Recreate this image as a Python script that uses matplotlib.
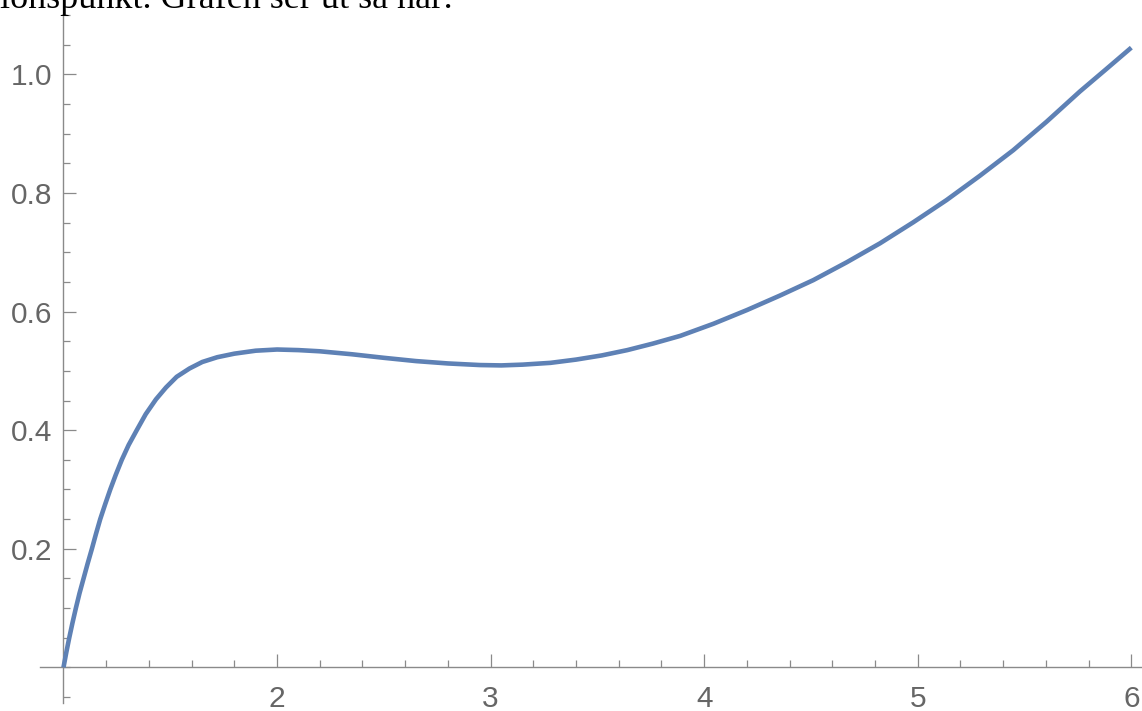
import numpy as np
import matplotlib
matplotlib.use("Agg")
import matplotlib.pyplot as plt
from matplotlib.ticker import MultipleLocator, FixedLocator

# values
x_vals = [1.0, 1.013, 1.027, 1.042, 1.058, 1.075, 1.094, 1.113, 1.133, 1.152,
          1.172, 1.195, 1.219, 1.245, 1.273, 1.305, 1.343, 1.385, 1.433, 1.48,
          1.53, 1.59, 1.65, 1.72, 1.8, 1.9, 2.0, 2.1, 2.2, 2.35, 2.5, 2.65,
          2.8, 2.95, 3.05, 3.15, 3.28, 3.4, 3.52, 3.64, 3.76, 3.888, 4.044,
          4.2, 4.355, 4.511, 4.667, 4.823, 4.979, 5.135, 5.291, 5.447, 5.603,
          5.759, 5.88, 6.0]
y_vals = [0.0, 0.025, 0.05, 0.075, 0.10, 0.125, 0.15, 0.175, 0.20, 0.225,
          0.25, 0.275, 0.30, 0.325, 0.35, 0.375, 0.40, 0.427, 0.452, 0.472,
          0.49, 0.504, 0.515, 0.523, 0.529, 0.534, 0.536, 0.535, 0.533, 0.528,
          0.522, 0.5165, 0.5125, 0.5098, 0.5092, 0.5105, 0.5135, 0.519, 0.526,
          0.535, 0.546, 0.559, 0.5795, 0.6025, 0.627, 0.653, 0.683, 0.715,
          0.7505, 0.788, 0.829, 0.872, 0.92, 0.971, 1.008, 1.045]

x_ticks = [2, 3, 4, 5, 6]
y_ticks = [0.2, 0.4, 0.6, 0.8, 1.0]
header = "ionspunkt. Grafen ser ut så här:"

fig = plt.figure(figsize=(11.42, 7.11), dpi=100)
ax = fig.add_axes([40 / 1142, 8 / 711, 1102 / 1142, 688 / 711])

ax.plot(x_vals, y_vals, color="#5e81b5", lw=3.3, solid_capstyle="butt",
        solid_joinstyle="round", clip_on=False, zorder=3)

ax.set_xlim(0.89, 6.05)
ax.set_ylim(-0.06, 1.1)

axis_col = "#8a8a8a"
for side in ["top", "right"]:
    ax.spines[side].set_visible(False)
ax.spines["left"].set_position(("data", 1))
ax.spines["bottom"].set_position(("data", 0))
for side in ["left", "bottom"]:
    ax.spines[side].set_color(axis_col)
    ax.spines[side].set_linewidth(1.0)

ax.xaxis.set_major_locator(FixedLocator(x_ticks))
ax.yaxis.set_major_locator(FixedLocator(y_ticks))
ax.xaxis.set_minor_locator(MultipleLocator(0.2))
ax.yaxis.set_minor_locator(MultipleLocator(0.05))
ax.set_yticklabels([f"{v:.1f}" for v in y_ticks])
ax.set_xticklabels([str(v) for v in x_ticks])

ax.tick_params(which="both", direction="in", color=axis_col, width=0.9,
               labelcolor="#666666", labelsize=21.5)
ax.tick_params(which="major", length=9.3)
ax.tick_params(which="minor", length=5.0)
ax.tick_params(axis="x", which="major", pad=13)
ax.tick_params(axis="y", which="major", pad=8)
for lab in ax.get_xticklabels() + ax.get_yticklabels():
    lab.set_fontfamily("Liberation Sans")

fig.text(0.0, 1 - 8 / 711, header, fontsize=26, family="Liberation Serif",
         color="black", va="baseline", ha="left")

fig.savefig("out.png", dpi=100)
